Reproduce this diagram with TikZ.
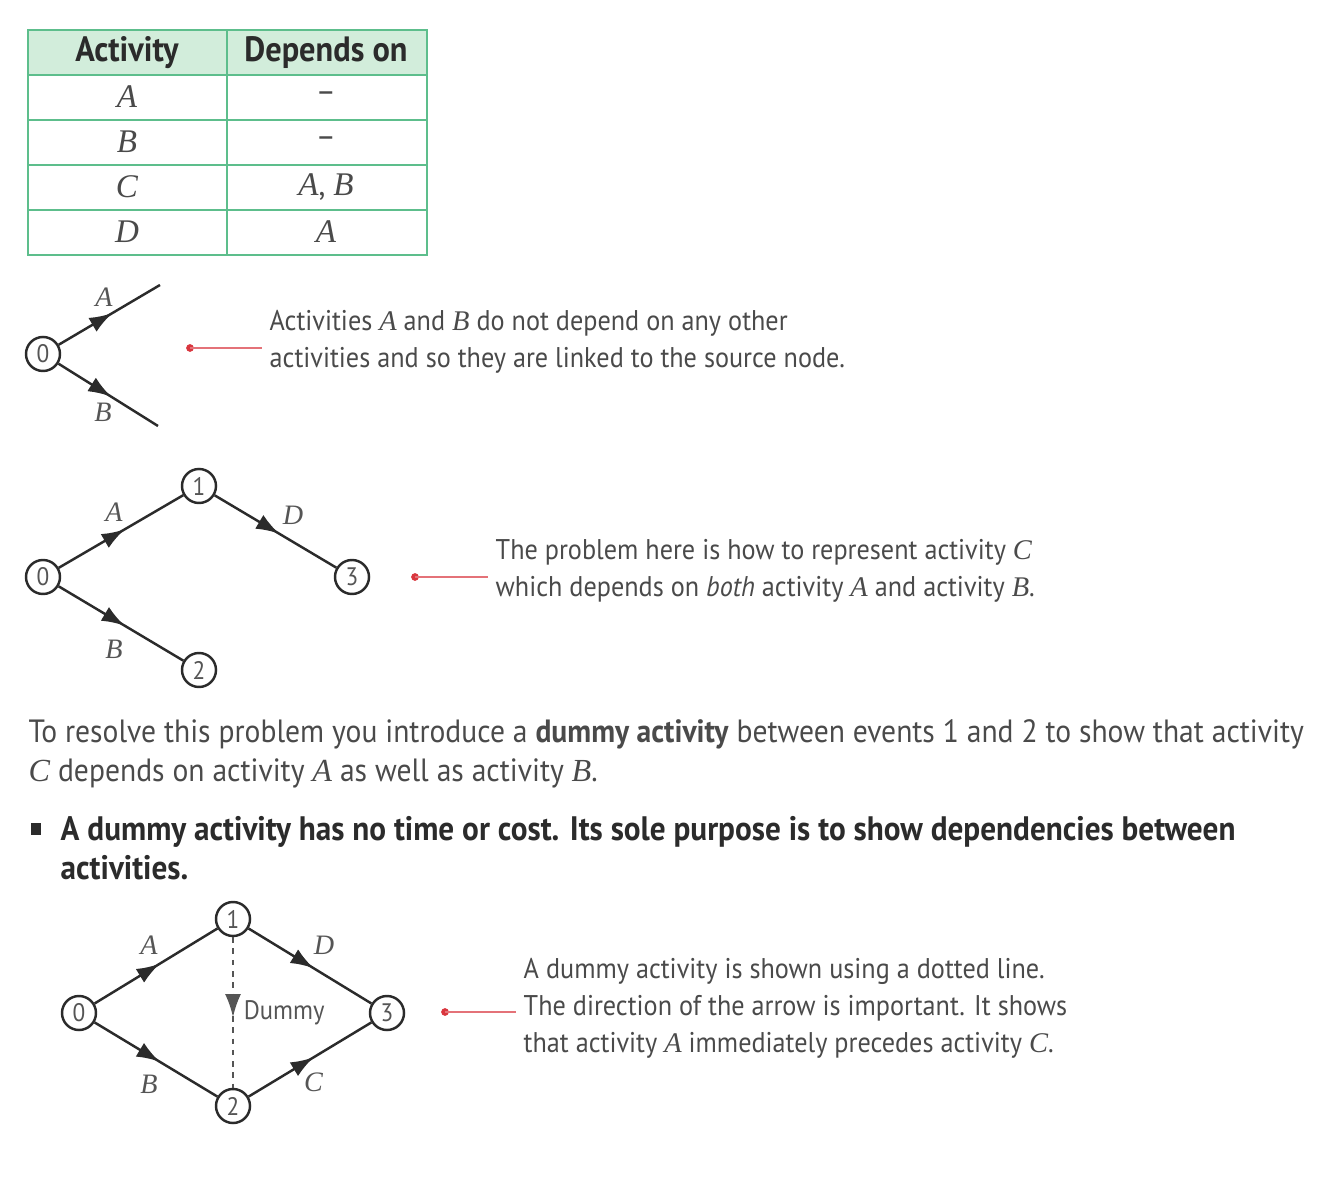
\documentclass[tikz,border=0pt]{standalone}
\usepackage{fontspec}
\setmainfont{PT Sans}[FakeStretch=0.92]
\newfontfamily\varfont{Liberation Serif}
\usepackage{xcolor}
\definecolor{cGrid}{HTML}{5DBE8C}
\definecolor{cHead}{HTML}{D2EDDB}
\definecolor{cInk}{HTML}{2B2B2B}
\definecolor{cText}{HTML}{4A4A4A}
\definecolor{cLbl}{HTML}{555555}
\definecolor{cPoint}{HTML}{D9363E}
\usepackage{tikz}
\usetikzlibrary{positioning,arrows.meta,decorations.markings}
\newcommand{\actv}[1]{{\varfont\itshape #1}}
\tikzset{
  grid-line/.style={draw=cGrid,line width=0.6pt},
  head-cell/.style={font=\fontsize{10}{11}\selectfont\bfseries,text=cInk},
  body-cell/.style={font=\fontsize{9.4}{10}\selectfont,text=cText},
  event-node/.style={circle,draw=cInk,line width=0.7pt,fill=white,
    minimum size=0.34cm,inner sep=0pt,text=cLbl,
    font=\fontsize{7.2}{8}\selectfont},
  act-line/.style={draw=cInk,line width=0.7pt},
  mid-tip/.style={postaction={decorate},decoration={markings,
    mark=at position 0.53 with {\arrow{Latex[length=2.3mm,width=1.6mm]}}}},
  dummy-line/.style={draw=cLbl,line width=0.45pt,dash pattern=on 1.6pt off 1.6pt},
  act-label/.style={text=cLbl,font=\fontsize{8}{9}\selectfont,inner sep=1.5pt},
  note-text/.style={text=cText,align=left,anchor=west,inner sep=0pt,
    font=\fontsize{8.1}{10.5}\selectfont},
  pointer/.style={draw=cPoint!70,line width=0.45pt},
}

\begin{document}
\begin{tikzpicture}[x=0.01cm,y=-0.01cm]
  \useasboundingbox (0,0) rectangle (1334,1180);

  % dependency table
  \fill[cHead] (28,30) rectangle (427,75);
  \draw[grid-line] (28,30) rectangle (427,255);
  \foreach \y in {75,120,165,210}
    \draw[grid-line] (28,\y) -- (427,\y);
  \draw[grid-line] (227,30) -- (227,255);
  \node[head-cell] (hAct) at (127,53) {Activity};
  \node[head-cell] (hDep) at (326,53) {Depends on};
  \foreach \y/\act/\dep [count=\i] in {97/A/{\textendash},142/B/{\textendash},
      187/C/{\actv{A}, \actv{B}},232/D/{\actv{A}}} {
    \node[body-cell] (act-\i) at (127,\y) {\actv{\act}};
    \node[body-cell] (dep-\i) at (326,\y) {\dep};
  }

  % source node
  \node[event-node] (s0) at (43,354) {0};
  \coordinate (endA) at (160,285);
  \coordinate (endB) at (158,426);
  \draw[act-line,mid-tip] (s0) -- node[act-label,above=0.5pt,xshift=-1.5pt] {\actv{A}} (endA);
  \draw[act-line,mid-tip] (s0) -- node[act-label,below=0.5pt,xshift=-1.5pt] {\actv{B}} (endB);
  \node[note-text] (note1) at (269,342)
    {Activities \actv{A} and \actv{B} do not depend on any other\\
     activities and so they are linked to the source node.};
  \coordinate (p1) at (190,348);
  \fill[cPoint] (p1) circle (1.1pt);
  \draw[pointer] (p1) -- ([xshift=-2pt]p1 -| note1.west);

  % first attempt
  \node[event-node] (a0) at (43,577) {0};
  \node[event-node] (a1) at (199,486) {1};
  \node[event-node] (a2) at (199,670) {2};
  \node[event-node] (a3) at (352,577) {3};
  \draw[act-line,mid-tip] (a0) -- node[act-label,above=1pt,xshift=-2pt] {\actv{A}} (a1);
  \draw[act-line,mid-tip] (a1) -- node[act-label,above=0pt,xshift=5pt] {\actv{D}} (a3);
  \draw[act-line,mid-tip] (a0) -- node[act-label,below=3pt,xshift=-2pt] {\actv{B}} (a2);
  \node[note-text] (note2) at (495,571)
    {The problem here is how to represent activity \actv{C}\\
     which depends on \textit{both} activity \actv{A} and activity \actv{B}.};
  \coordinate (p2) at (415,577);
  \fill[cPoint] (p2) circle (1.1pt);
  \draw[pointer] (p2) -- ([xshift=-2pt]p2 -| note2.west);

  \node[note-text,font=\fontsize{9.15}{10.9}\selectfont] (para) at (28,754)
    {To resolve this problem you introduce a \textbf{dummy activity} between events 1 and 2 to show that activity\\
     \actv{C} depends on activity \actv{A} as well as activity \actv{B}.};
  \fill[cInk] (31,823) rectangle (41,835);
  \node[note-text,text=cInk,font=\fontsize{9.65}{11}\selectfont\bfseries] (rule) at (60,848)
    {A dummy activity has no time or cost. Its sole purpose is to show dependencies between\\
     activities.};

  % with dummy activity
  \node[event-node] (b0) at (79,1013) {0};
  \node[event-node] (b1) at (233,919) {1};
  \node[event-node] (b2) at (233,1106) {2};
  \node[event-node] (b3) at (387,1013) {3};
  \draw[act-line,mid-tip] (b0) -- node[act-label,above=1.5pt,xshift=-2pt] {\actv{A}} (b1);
  \draw[act-line,mid-tip] (b1) -- node[act-label,above=1.5pt,xshift=4pt] {\actv{D}} (b3);
  \draw[act-line,mid-tip] (b0) -- node[act-label,below=2.5pt,xshift=-2pt] {\actv{B}} (b2);
  \draw[act-line,mid-tip] (b2) -- node[act-label,below=2pt,xshift=1pt] {\actv{C}} (b3);
  \draw[dummy-line,mid-tip] (b1) -- node[right=-0.5pt,text=cLbl,font=\fontsize{7.6}{9}\selectfont] (dummy) {Dummy} (b2);
  \node[note-text] (note3) at (523,1008)
    {A dummy activity is shown using a dotted line.\\
     The direction of the arrow is important. It shows\\
     that activity \actv{A} immediately precedes activity \actv{C}.};
  \coordinate (p3) at (445,1012);
  \fill[cPoint] (p3) circle (1.1pt);
  \draw[pointer] (p3) -- ([xshift=-2pt]p3 -| note3.west);
\end{tikzpicture}
\end{document}
